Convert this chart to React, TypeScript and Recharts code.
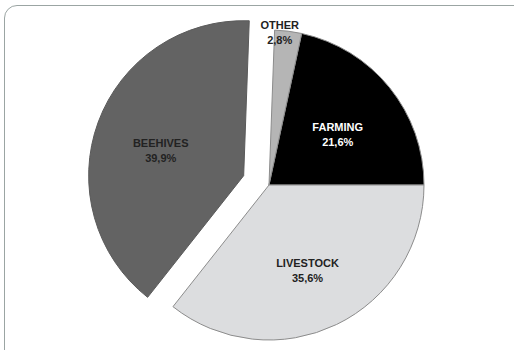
import React from 'react'
import { Cell, Pie, PieChart } from 'recharts'

// order is counter-clockwise from 3 o'clock
const categories = ['FARMING', 'OTHER', 'BEEHIVES', 'LIVESTOCK']
const shares = [21.6, 2.8, 39.9, 35.6]
const shareLabels = ['21,6%', '2,8%', '39,9%', '35,6%']
const colors = ['#000000', '#b5b5b5', '#636363', '#dcdddf']
const textColors = ['#ffffff', '#222222', '#222222', '#222222']
const exploded = 'BEEHIVES'

const data = categories.map((name, i) => ({ name, value: shares[i], label: shareLabels[i] }))

const CX = 269
const CY = 185
const R = 155
const EXPLODE = 27
const RAD = Math.PI / 180

// mid angle of the exploded slice, to push its centre outwards
const total = shares.reduce((a, b) => a + b, 0)
const explodedIdx = categories.indexOf(exploded)
const before = shares.slice(0, explodedIdx).reduce((a, b) => a + b, 0)
const explodedMid = (360 * (before + shares[explodedIdx] / 2)) / total
const ecx = CX + EXPLODE * Math.cos(explodedMid * RAD)
const ecy = CY - EXPLODE * Math.sin(explodedMid * RAD)

const makeLabel = (onlyExploded: boolean) => (props: any) => {
  const { cx, cy, midAngle, outerRadius, index, percent } = props
  const isExp = categories[index] === exploded
  if (isExp !== onlyExploded) return null
  const small = percent < 0.05
  const r = small ? outerRadius - 4 : outerRadius * 0.57
  const x = cx + r * Math.cos(-midAngle * RAD) - (small ? 8 : 0)
  const y = cy + r * Math.sin(-midAngle * RAD)
  return (
    <text
      x={x}
      y={y}
      textAnchor="middle"
      fill={textColors[index]}
      fontFamily="'Liberation Sans', Arial, sans-serif"
      fontSize={11}
      fontWeight="bold"
    >
      <tspan x={x} dy={small ? -6 : 2}>{categories[index]}</tspan>
      <tspan x={x} dy={15}>{data[index].label}</tspan>
    </text>
  )
}

const noMargin = { top: 0, right: 0, bottom: 0, left: 0 }

const App = () => {
  return (
    <div style={{ position: 'absolute', left: 0, top: 0, width: 514, height: 350, overflow: 'hidden', background: '#fff' }}>
      <div
        style={{
          position: 'absolute',
          left: 4,
          top: 5,
          width: 530,
          height: 360,
          border: '1.5px solid #9ba5a3',
          borderRadius: 13,
          boxSizing: 'border-box',
        }}
      />
      <div style={{ position: 'absolute', left: 0, top: 0 }}>
        <PieChart width={514} height={350} margin={noMargin}>
          <Pie
            data={data}
            dataKey="value"
            nameKey="name"
            cx={CX}
            cy={CY}
            outerRadius={R}
            startAngle={0}
            endAngle={360}
            labelLine={false}
            label={makeLabel(false)}
            isAnimationActive={false}
          >
            {data.map((d, i) => (
              <Cell
                key={d.name}
                fill={d.name === exploded ? 'none' : colors[i]}
                stroke={d.name === exploded ? 'none' : '#8c8c8c'}
                strokeWidth={1}
              />
            ))}
          </Pie>
          <Pie
            data={data}
            dataKey="value"
            nameKey="name"
            cx={ecx}
            cy={ecy}
            outerRadius={R}
            startAngle={0}
            endAngle={360}
            labelLine={false}
            label={makeLabel(true)}
            isAnimationActive={false}
          >
            {data.map((d, i) => (
              <Cell
                key={d.name}
                fill={d.name === exploded ? colors[i] : 'none'}
                stroke={d.name === exploded ? '#5a5a5a' : 'none'}
                strokeWidth={1}
              />
            ))}
          </Pie>
        </PieChart>
      </div>
    </div>
  )
}

export default App
